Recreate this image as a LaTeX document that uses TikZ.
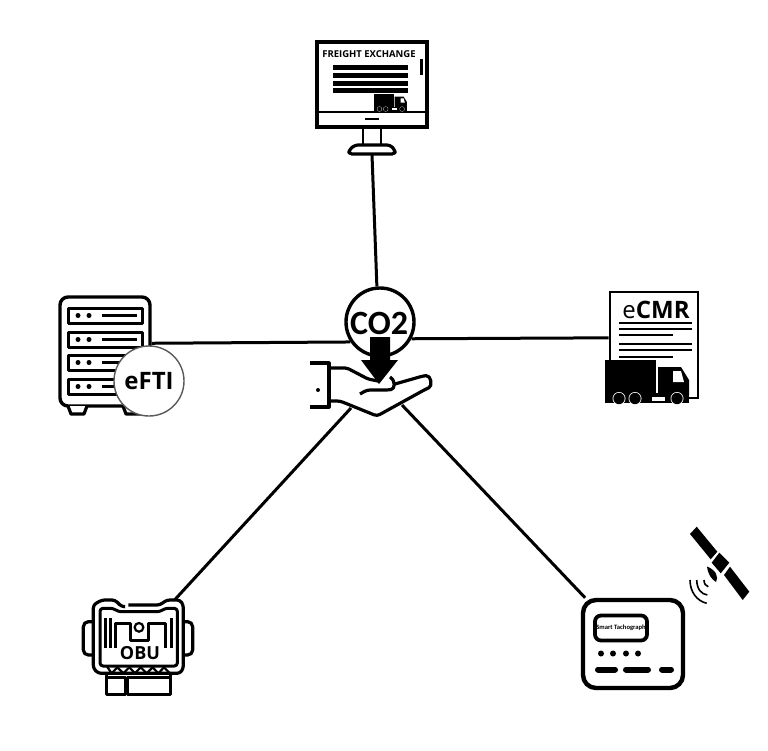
\documentclass[tikz,border=0pt]{standalone}
\usepackage{fontspec}
\setmainfont{Open Sans}
\newfontfamily\cofont{Carlito}
\tikzset{
  wire/.style={line width=3pt},
  outline/.style={draw,line width=3.2pt,line join=round},
  frame/.style={draw,line width=3.4pt,inner sep=0pt},
  slot/.style={line width=3pt,line join=round},
  lorry/.pic={
    \fill (0,0) rectangle (51,33);
    \fill (53,7) -- (76,7) -- (84,20) -- (84,35) -- (53,35) -- cycle;
    \fill (0,33) rectangle (84,43);
    \fill[white] (68,11) -- (76,11) -- (79,22) -- (68,22) -- cycle;
    \fill[white] (47,37) rectangle (60,41);
    \foreach \wx in {14,30,72} {
      \fill[white] (\wx,38.5) circle (6.5);
      \fill (\wx,38.5) circle (5.7);
    }
  }
}
\begin{document}
\begin{tikzpicture}[x=1pt,y=-1pt]
\useasboundingbox (0,0) rectangle (768,750);
\node[frame,fill=white,minimum width=110pt,minimum height=85pt] (monitor) at (372,84.5) {};
\node[frame,fill=white,rounded corners=8pt,minimum width=90pt,minimum height=109pt] (server) at (105,351.5) {};
\node[draw,line width=2.6pt,inner sep=0pt,minimum width=88pt,minimum height=106pt] (ecmr) at (654,345) {};
\node[inner sep=0pt,minimum width=90pt,minimum height=73pt] (obu) at (138,636.5) {};
\node[draw,line width=4.4pt,rounded corners=13pt,inner sep=0pt,minimum width=100pt,minimum height=88pt] (tacho) at (633,644) {};
\node[inner sep=0pt,minimum width=46pt,minimum height=9pt] (stand) at (372,150) {};
\node[draw,line width=3.4pt,fill=white,circle,inner sep=0pt,minimum size=68pt] (co2) at (380,322) {};
\coordinate (palmleft) at (351,408);
\coordinate (palmright) at (402,405);

\draw[wire] (stand.south) -- (co2.95);
\draw[wire] (server.10) -- (co2.214);
\draw[wire] (ecmr.171) -- (co2.-28);
\draw[wire] (obu.45) -- (palmleft);
\draw[wire] (tacho.136) -- (palmright);

\draw[line width=2.8pt] (317,112) -- (427,112);
\node[font=\bfseries,scale=0.95] (exchange) at (369,54) {FREIGHT EXCHANGE};
\foreach \by in {67,75,83,90}
  \fill (333,\by-2.5) rectangle (408,\by+2.5);
\fill (420,59) rectangle (423,75);
\pic[scale=0.39] at (374,94) {lorry};
\draw[line width=2.4pt] (365,119) -- (379,119);
\draw[line width=2.6pt] (363,127) -- (363,145) (381,127) -- (381,145);
\draw[outline,fill=white,rounded corners=3pt] (349,154) -- (349,150) -- (355,145) -- (390,145) -- (395,150) -- (395,154) -- cycle;

\foreach \sy in {308,332,355,379} {
  \draw[slot] (68,\sy) rectangle (142,\sy+15);
  \fill (78,\sy+7.5) circle (2.5) (89,\sy+7.5) circle (2.5);
  \draw[slot] (102,\sy+7.5) -- (137,\sy+7.5);
}
\draw[outline,fill=white] (68,406) -- (71,414) -- (84,414) -- (87,406);
\draw[outline,fill=white] (123,406) -- (126,414) -- (140,414) -- (143,406);
\node[draw=black!65,line width=1.4pt,fill=white,circle,inner sep=0pt,minimum size=70pt,font=\bfseries\fontsize{24}{24}\selectfont] (efti) at (149,381) {eFTI};

\node[font=\fontsize{24}{24}\selectfont,inner sep=0pt] (cmrlabel) at (656,310) {e\textbf{CMR}};
\foreach \ly/\lx in {323/692,329/692,335/673,344/692,350/692,357/673}
  \draw[line width=2.4pt] (619,\ly) -- (\lx,\ly);
\pic at (605,360) {lorry};

\node[font=\cofont\bfseries\fontsize{34}{34}\selectfont,inner sep=0pt] (co2label) at (379,323) {CO2};
\fill (370,337) -- (390,337) -- (390,360) -- (398,360) -- (379,384) -- (361,360) -- (370,360) -- cycle;
\draw[outline] (310,363) -- (329,363) -- (329,407) -- (310,407);
\fill (318,390) circle (2);
\draw[outline,rounded corners=2pt] (329,368) -- (347,368) -- (368,379) -- (378,381);
\draw[outline,rounded corners=3pt] (390,377) .. controls (396,381) and (395,389) .. (388,390) -- (367,390) -- (360,394);
\draw[outline,rounded corners=3pt] (395,384) -- (423,376) .. controls (431,375) and (433,386) .. (426,389) -- (377,416) -- (340,401) -- (329,401);

\begin{scope}[shift={(70,590)},scale=1/3]
\draw[outline,fill=white,rounded corners=5pt] (70,95) -- (40,95) -- (40,195) -- (70,195);
\draw[outline,fill=white,rounded corners=5pt] (340,95) -- (368,95) -- (368,195) -- (340,195);
\draw[outline,rounded corners=3pt] (165,50) -- (155,50) -- (135,30) -- (95,30) -- (70,45) -- (70,235) -- (85,250) -- (330,250) -- (340,235) -- (340,45) -- (330,30) -- (290,30) -- (270,45) -- (175,45);
\draw[slot,rounded corners=3pt] (90,55) -- (130,55) -- (145,65) -- (270,65) -- (285,55) -- (322,55) -- (322,228) -- (90,228) -- cycle;
\draw[slot] (105,85) -- (105,175) (120,85) -- (120,175) (305,85) -- (305,175);
\draw[slot] (135,175) -- (135,100) -- (180,100) -- (180,150) -- (235,150) -- (235,100) -- (285,100) -- (285,175);
\draw[line width=2.2pt] (207,112) circle (13);
\draw[line width=2.2pt] (110,228) -- (125,250) -- (142,232) -- (160,250) -- (178,232) -- (195,250) -- (212,232) -- (230,250) -- (248,232) -- (265,250) -- (282,232) -- (300,250);
\draw[slot] (110,262) rectangle (165,312);
\draw[slot] (172,262) rectangle (300,312);
\draw[slot] (110,250) -- (110,262) (300,250) -- (300,262);
\end{scope}
\node[font=\bfseries\fontsize{18}{18}\selectfont,inner sep=0pt] (obulabel) at (140,653) {OBU};

\node[draw,line width=3.8pt,rounded corners=6pt,inner sep=0pt,minimum width=52pt,minimum height=25pt,font=\cofont\bfseries\fontsize{6.6}{7}\selectfont] (display) at (621,628) {Smart Tachograph};
\foreach \dx in {601,613,626,638}
  \fill (\dx,653.5) circle (3);
\draw[line width=6pt,line cap=round] (598,669.5) -- (615,669.5) (626,669.5) -- (648,669.5) (662,669.5) -- (671,669.5);

\fill (690,534) -- (696.7,526.7) -- (717.3,551.7) -- (710.7,559.3) -- cycle;
\fill (711.7,562.7) -- (719.3,552.7) -- (729.3,562.7) -- (720.7,573.3) -- cycle;
\fill (724,575) -- (730,566.7) -- (749.3,591.7) -- (742.7,600) -- cycle;
\fill (707,566.5) .. controls (708,574) and (711,579) .. (716,582) .. controls (719,577) and (716,570) .. (707,566.5) -- cycle;
\draw[line width=1.6pt] (704,580) .. controls (704,584) and (706,586) .. (708.3,586.7);
\draw[line width=1.6pt] (696.7,580) .. controls (697,589) and (701,594) .. (707.3,595);
\draw[line width=1.6pt] (690,580) .. controls (690,592) and (697,601) .. (706.7,603.3);
\end{tikzpicture}
\end{document}
